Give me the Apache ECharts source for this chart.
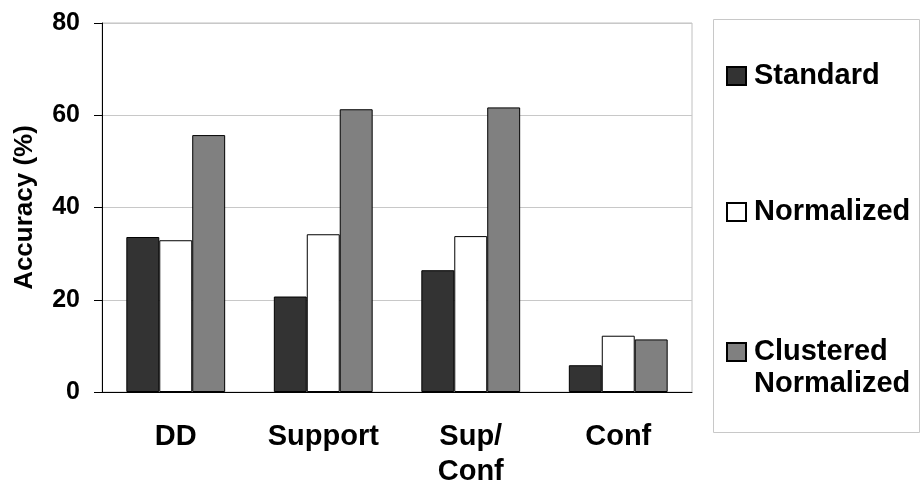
<!DOCTYPE html>
<html>
<head>
<meta charset="utf-8">
<script src="https://cdn.jsdelivr.net/npm/echarts@6/dist/echarts.min.js"></script>
<style>
  html, body { margin: 0; padding: 0; background: #fff; }
  #chart { width: 922px; height: 491px; }
</style>
</head>
<body>
<div id="chart"></div>
<script>
// Accuracy of each method, per measure
var categories = ['DD', 'Support', 'Sup/\nConf', 'Conf'];
var standard = [33.6, 20.7, 26.4, 5.8];
var normalized = [32.9, 34.2, 33.8, 12.2];
var clusteredNormalized = [55.7, 61.3, 61.7, 11.4];
var yTicks = [0, 20, 40, 60, 80];

var FONT = '"Liberation Sans", Arial, sans-serif';

var chart = echarts.init(document.getElementById('chart'), null, { renderer: 'canvas' });

function barSeries(name, data, color) {
  return {
    name: name,
    type: 'bar',
    data: data,
    barGap: '0%',
    barCategoryGap: '33%',
    itemStyle: { color: color, borderColor: '#000', borderWidth: 1 },
    emphasis: { disabled: true }
  };
}

// One legend block per series so each sits at its own height in the key box
function legendFor(name, top, formatter) {
  var l = {
    data: [name],
    orient: 'vertical',
    left: 726,
    top: top,
    padding: 0,
    icon: 'rect',
    itemWidth: 19,
    itemHeight: 18,
    selectedMode: false,
    textStyle: {
      fontFamily: FONT,
      fontWeight: 'bold',
      fontSize: 29,
      lineHeight: 32,
      color: '#000',
      padding: [0, 0, 0, 3]
    }
  };
  if (formatter) l.formatter = formatter;
  return l;
}

chart.setOption({
  animation: false,
  backgroundColor: '#fff',
  grid: {
    left: 102,
    right: 230,
    top: 23,
    bottom: 99,
    outerBoundsMode: 'none',
    containLabel: false,
    show: true,
    borderColor: '#c0c0c0',
    borderWidth: 1
  },
  graphic: [{
    type: 'rect',
    shape: { x: 713.5, y: 19.5, width: 206, height: 413 },
    style: { fill: 'none', stroke: '#c8c8c8', lineWidth: 1 },
    silent: true
  }],
  legend: [
    legendFor('Standard', 60),
    legendFor('Normalized', 196),
    // leading blank line keeps the first text line level with the swatch
    legendFor('Clustered Normalized', 304, function () { return '\nClustered\nNormalized'; })
  ],
  xAxis: {
    type: 'category',
    data: categories,
    axisLine: { lineStyle: { color: '#000', width: 1 } },
    axisTick: { show: false },
    axisLabel: {
      fontFamily: FONT,
      fontWeight: 'bold',
      fontSize: 29,
      lineHeight: 35,
      color: '#000',
      margin: 27,
      interval: 0
    }
  },
  yAxis: {
    type: 'value',
    min: yTicks[0],
    max: yTicks[yTicks.length - 1],
    interval: 20,
    name: 'Accuracy (%)',
    nameLocation: 'middle',
    nameGap: 64,
    nameTextStyle: {
      fontFamily: FONT,
      fontWeight: 'bold',
      fontSize: 26,
      color: '#000'
    },
    axisLine: { show: true, lineStyle: { color: '#000', width: 1 } },
    axisTick: { show: true, inside: false, length: 8, lineStyle: { color: '#000' } },
    axisLabel: {
      fontFamily: FONT,
      fontWeight: 'bold',
      fontSize: 25,
      color: '#000',
      margin: 22
    },
    splitLine: { show: true, lineStyle: { color: '#c8c8c8', width: 1 } }
  },
  series: [
    barSeries('Standard', standard, '#333333'),
    barSeries('Normalized', normalized, '#ffffff'),
    barSeries('Clustered Normalized', clusteredNormalized, '#808080')
  ]
});
</script>
</body>
</html>
